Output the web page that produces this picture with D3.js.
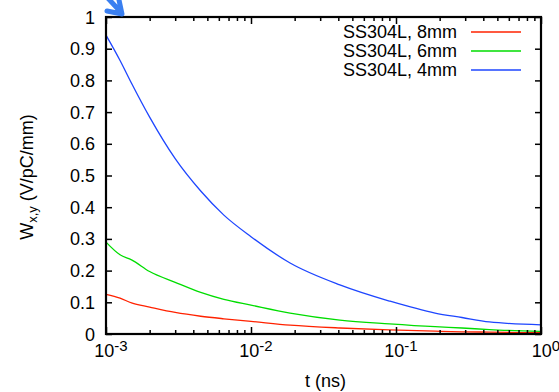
<!DOCTYPE html>
<html>
<head>
<meta charset="utf-8">
<script src="https://cdn.jsdelivr.net/npm/d3@7"></script>
<style>
  body { margin: 0; background: #fff; }
  text { font-family: "Liberation Sans", Arial, sans-serif; fill: #000; }
</style>
</head>
<body>
<div id="canvas"></div>
<script>
// time points (ns) and wake values
const times = [0.001, 0.00125, 0.0015, 0.002, 0.003, 0.0045, 0.0065, 0.01, 0.0186, 0.041, 0.09, 0.186, 0.285, 0.44, 1.0];
const ss8mm = [0.125, 0.113, 0.098, 0.085, 0.068, 0.056, 0.048, 0.040, 0.028, 0.019, 0.013, 0.009, 0.007, 0.006, 0.004];
const ss6mm = [0.290, 0.250, 0.234, 0.197, 0.163, 0.131, 0.109, 0.091, 0.066, 0.044, 0.032, 0.023, 0.019, 0.014, 0.008];
const ss4mm = [0.943, 0.863, 0.791, 0.684, 0.553, 0.451, 0.375, 0.307, 0.224, 0.155, 0.104, 0.066, 0.052, 0.038, 0.029];

const seriesNames = ["SS304L, 8mm", "SS304L, 6mm", "SS304L, 4mm"];
const seriesColors = ["#ff2200", "#00dd00", "#1e46ff"];
const xTickExp = [-3, -2, -1, 0];
const yTicks = [0, 0.1, 0.2, 0.3, 0.4, 0.5, 0.6, 0.7, 0.8, 0.9, 1];

const width = 559, height = 392;
const pLeft = 106, pRight = 541, pTop = 17, pBottom = 334;

const svg = d3.select("#canvas").append("svg")
    .attr("width", width)
    .attr("height", height);

const x = d3.scaleLog().domain([1e-3, 1]).range([pLeft, pRight]);
const y = d3.scaleLinear().domain([0, 1]).range([pBottom, pTop]);

// curves
const line = d3.line()
    .x(d => x(d[0]))
    .y(d => y(d[1]))
    .curve(d3.curveMonotoneX);

[ss8mm, ss6mm, ss4mm].forEach((vals, i) => {
    svg.append("path")
        .datum(times.map((t, j) => [t, vals[j]]))
        .attr("fill", "none")
        .attr("stroke", seriesColors[i])
        .attr("stroke-width", 1.3)
        .attr("d", line);
});

// minor/major ticks on x (bottom and top, inward)
const minor = [];
for (let e = -3; e < 0; e++) {
    for (let m = 2; m <= 9; m++) minor.push(m * Math.pow(10, e));
}
const xAxisB = d3.axisBottom(x).tickValues(minor).tickSizeInner(-4).tickSizeOuter(0).tickFormat("");
const xAxisT = d3.axisTop(x).tickValues(minor).tickSizeInner(-4).tickSizeOuter(0).tickFormat("");
svg.append("g").attr("transform", `translate(0,${pBottom})`).call(xAxisB);
svg.append("g").attr("transform", `translate(0,${pTop})`).call(xAxisT);
const majors = xTickExp.map(e => Math.pow(10, e));
svg.append("g").attr("transform", `translate(0,${pBottom})`)
    .call(d3.axisBottom(x).tickValues(majors).tickSizeInner(-7).tickSizeOuter(0).tickFormat(""));
svg.append("g").attr("transform", `translate(0,${pTop})`)
    .call(d3.axisTop(x).tickValues(majors).tickSizeInner(-7).tickSizeOuter(0).tickFormat(""));

// y ticks left and right, inward
svg.append("g").attr("transform", `translate(${pLeft},0)`)
    .call(d3.axisLeft(y).tickValues(yTicks).tickSizeInner(-6).tickSizeOuter(0).tickFormat(""));
svg.append("g").attr("transform", `translate(${pRight},0)`)
    .call(d3.axisRight(y).tickValues(yTicks).tickSizeInner(-6).tickSizeOuter(0).tickFormat(""));

svg.selectAll(".domain").remove();
svg.selectAll(".tick line").attr("stroke", "#000").attr("stroke-width", 1.5);

// frame
svg.append("rect")
    .attr("x", pLeft).attr("y", pTop)
    .attr("width", pRight - pLeft).attr("height", pBottom - pTop)
    .attr("fill", "none").attr("stroke", "#000").attr("stroke-width", 2.2);

// y tick labels
svg.selectAll(".ylab").data(yTicks).enter().append("text")
    .attr("x", pLeft - 11)
    .attr("y", d => y(d) + 6.5)
    .attr("text-anchor", "end")
    .style("font-size", "18px")
    .text(d => d === 0 || d === 1 ? String(d) : d.toFixed(1));

// x tick labels 10^e
xTickExp.forEach(e => {
    const t = svg.append("text")
        .attr("x", x(Math.pow(10, e)) + 5)
        .attr("y", pBottom + 23)
        .attr("text-anchor", "middle")
        .style("font-size", "18px");
    t.append("tspan").text("10");
    t.append("tspan").attr("dy", -6).style("font-size", "15px").text(String(e));
});

// axis titles
svg.append("text")
    .attr("x", (pLeft + pRight) / 2 + 2)
    .attr("y", 387)
    .attr("text-anchor", "middle")
    .style("font-size", "18px")
    .text("t (ns)");

const yl = svg.append("text")
    .attr("transform", "translate(33,177) rotate(-90)")
    .attr("text-anchor", "middle")
    .style("font-size", "18px");
yl.append("tspan").text("W");
yl.append("tspan").attr("dy", 4).style("font-size", "13px").text("x,y");
yl.append("tspan").attr("dy", -4).text(" (V/pC/mm)");

// legend
seriesNames.forEach((name, i) => {
    const ly = 32 + i * 19;
    svg.append("text")
        .attr("x", 457).attr("y", ly + 6.3)
        .attr("text-anchor", "end")
        .style("font-size", "18px")
        .text(name);
    svg.append("line")
        .attr("x1", 471).attr("x2", 521)
        .attr("y1", ly).attr("y2", ly)
        .attr("stroke", seriesColors[i]).attr("stroke-width", 1.3);
});

// blue arrow head, cut off at the top edge
svg.append("path")
    .attr("d", "M104,-6 L118,9 M107,11 L122,14 L119,0")
    .attr("fill", "none")
    .attr("stroke", "#3a7ff0")
    .attr("stroke-width", 5)
    .attr("stroke-linecap", "round")
    .attr("stroke-linejoin", "round");
</script>
</body>
</html>
